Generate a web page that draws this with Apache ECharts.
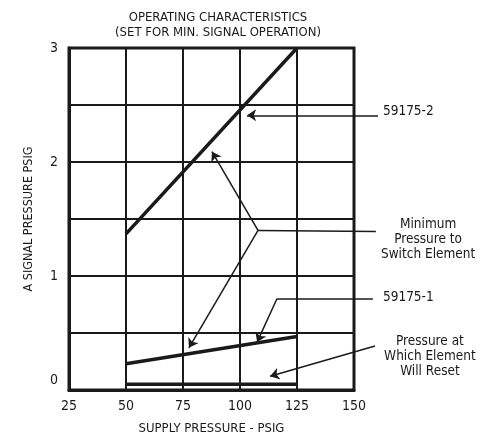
<!DOCTYPE html>
<html>
<head>
<meta charset="utf-8">
<script src="https://cdn.jsdelivr.net/npm/echarts@6/dist/echarts.min.js"></script>
<style>
  html, body { margin: 0; padding: 0; background: #fff; }
  #main { width: 486px; height: 434px; }
</style>
</head>
<body>
<div id="main"></div>
<script>
var FONT = "'Liberation Sans Narrow', 'DejaVu Sans Condensed', 'Liberation Sans', sans-serif";
var INK = '#1a1a1a';

// supply pressure (psig) -> signal pressure (psig)
var model2 = [[50, 1.37], [125, 3.0]];      // 59175-2
var model1 = [[50, 0.23], [125, 0.47]];     // 59175-1
var resetLine = [[50, 0.05], [125, 0.05]];  // reset level

// annotation leaders, in data units (supply, signal)
var arrowLeaders = [
  [[160.5, 2.41], [103.1, 2.41]],   // 59175-2
  [[107.9, 1.40], [87.7, 2.09]],    // minimum -> upper
  [[107.9, 1.40], [77.6, 0.37]],    // minimum -> lower
  [[116.2, 0.80], [107.5, 0.42]],   // 59175-1
  [[159.2, 0.386], [113.2, 0.12]]   // reset
];
var plainLeaders = [
  [[159.6, 1.39], [107.9, 1.40]],
  [[158.3, 0.80], [116.2, 0.80]]
];
var notes = [
  { value: [162.7, 2.44], text: '59175-2', align: 'left' },
  { value: [182.5, 1.32], text: 'Minimum\nPressure to\nSwitch Element', align: 'center' },
  { value: [162.7, 0.81], text: '59175-1', align: 'left' },
  { value: [183.3, 0.29], text: 'Pressure at\nWhich Element\nWill Reset', align: 'center' }
];

var chart = echarts.init(document.getElementById('main'));

var option = {
  backgroundColor: '#fff',
  animation: false,
  title: {
    text: 'OPERATING CHARACTERISTICS\n(SET FOR MIN. SIGNAL OPERATION)',
    left: 213,
    top: 5,
    textAlign: 'center',
    textStyle: { fontFamily: FONT, fontSize: 13, fontWeight: 'normal', color: INK, lineHeight: 15 }
  },
  grid: {
    left: 69, right: 132, top: 48, bottom: 44,
    outerBoundsMode: 'none',
    containLabel: false,
    show: true, borderColor: INK, borderWidth: 3
  },
  xAxis: {
    type: 'value',
    min: 25, max: 150, interval: 25,
    name: 'SUPPLY PRESSURE - PSIG',
    nameLocation: 'middle',
    nameGap: 32,
    nameTextStyle: { fontFamily: FONT, fontSize: 13, color: INK },
    axisLine: { show: true, lineStyle: { color: INK, width: 3 } },
    axisTick: { show: false },
    axisLabel: { margin: 9, fontFamily: FONT, fontSize: 14, color: INK },
    splitLine: { show: true, lineStyle: { color: INK, width: 2 } }
  },
  yAxis: {
    type: 'value',
    min: 0, max: 3, interval: 0.5,
    name: 'A SIGNAL PRESSURE PSIG',
    nameLocation: 'middle',
    nameGap: 34,
    nameTextStyle: { fontFamily: FONT, fontSize: 12.5, color: INK },
    axisLine: { show: true, lineStyle: { color: INK, width: 3 } },
    axisTick: { show: false },
    axisLabel: {
      margin: 11, fontFamily: FONT, fontSize: 14, color: INK,
      formatter: function (v) {
        if (v === 0) return '{lo|0}';
        return Number.isInteger(v) ? String(v) : '';
      },
      rich: { lo: { fontFamily: FONT, fontSize: 14, color: INK, padding: [0, 0, 20, 0] } }
    },
    splitLine: { show: true, lineStyle: { color: INK, width: 2 } }
  },
  series: [
    {
      name: '59175-2', type: 'line', data: model2, symbol: 'none',
      lineStyle: { color: INK, width: 3.5 }
    },
    {
      name: '59175-1', type: 'line', data: model1, symbol: 'none',
      lineStyle: { color: INK, width: 3.5 }
    },
    {
      name: 'reset', type: 'line', data: resetLine, symbol: 'none',
      lineStyle: { color: INK, width: 3.5 }
    },
    {
      type: 'lines', coordinateSystem: 'cartesian2d', clip: false, silent: true,
      symbol: ['none', 'arrow'], symbolSize: 9,
      lineStyle: { color: INK, width: 1.5, opacity: 1 },
      data: arrowLeaders.map(function (c) { return { coords: c }; })
    },
    {
      type: 'lines', coordinateSystem: 'cartesian2d', clip: false, silent: true,
      symbol: 'none',
      lineStyle: { color: INK, width: 1.5, opacity: 1 },
      data: plainLeaders.map(function (c) { return { coords: c }; })
    },
    {
      type: 'scatter', clip: false, silent: true, symbolSize: 0,
      itemStyle: { opacity: 1 },
      data: notes.map(function (n) {
        return {
          value: n.value, name: n.text,
          label: { align: n.align }
        };
      }),
      label: {
        show: true, position: 'inside', verticalAlign: 'middle',
        formatter: function (p) { return p.name; },
        fontFamily: FONT, fontSize: 13.5, lineHeight: 15, color: INK
      }
    }
  ]
};

chart.setOption(option);
</script>
</body>
</html>
